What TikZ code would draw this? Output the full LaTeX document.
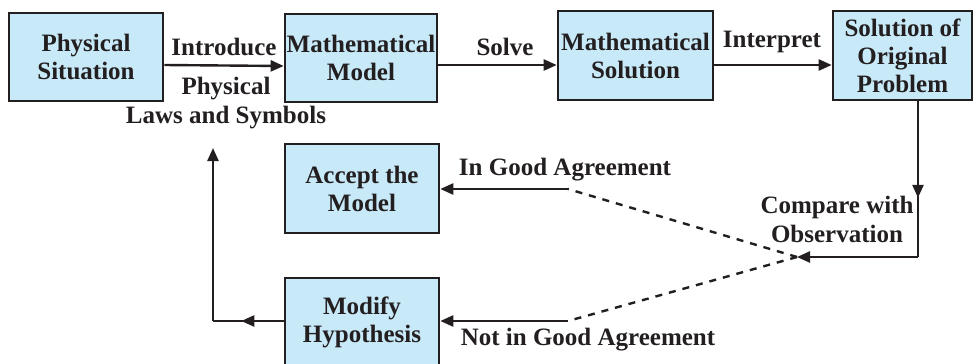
\documentclass[tikz,border=0pt]{standalone}
\usepackage{fontspec}
\setmainfont{Liberation Serif}
\usetikzlibrary{arrows.meta,decorations.markings,calc}
\definecolor{boxfill}{HTML}{C8E9F8}
\definecolor{ink}{HTML}{231F20}
\begin{document}
\begin{tikzpicture}[x=1pt,y=-1pt,
  box/.style={draw=ink,line width=2.6pt,fill=boxfill,align=center,inner sep=0pt,
    font=\fontsize{25}{28}\selectfont\bfseries,text=ink},
  lbl/.style={align=center,inner sep=0pt,font=\fontsize{25}{29}\selectfont\bfseries,text=ink},
  tip/.style={-{Triangle[length=13pt,width=11pt]}},
  conn/.style={draw=ink,line width=2.4pt},
  dashline/.style={draw=ink,line width=2.4pt,dash pattern=on 7pt off 7pt},
  midarrow/.style={postaction={decorate},decoration={markings,
    mark=at position #1 with {\arrow{Triangle[length=13pt,width=11pt]}}}}
]
\useasboundingbox (0,0) rectangle (980,364);
\node[box,minimum width=154,minimum height=88] (b1) at (86,57) {Physical\\Situation};
\node[box,minimum width=152,minimum height=88] (b2) at (361,58) {Mathematical\\Model};
\node[box,minimum width=155,minimum height=89] (b3) at (635.5,55.5) {Mathematical\\Solution};
\node[box,minimum width=139,minimum height=89] (b4) at (902.5,55.5) {Solution of\\Original\\Problem};
\node[box,minimum width=154,minimum height=89] (acc) at (362,188.5) {Accept the\\Model};
\node[box,minimum width=154,minimum height=89] (mod) at (362,322.5) {Modify\\Hypothesis};

\coordinate (cmp) at (797,257);
\coordinate (corner) at (918,257);
\coordinate (gd) at (568,189);
\coordinate (ngd) at (568,321);
\coordinate (lc) at (213,321);
\coordinate (lt) at (213,148);

\draw[conn,tip] ([yshift=-8pt]b1.east) -- ([yshift=-8pt]b2.west);
\draw[conn,tip] ([yshift=-7pt]b2.east) -- ([yshift=-9.5pt]b3.west);
\draw[conn,tip] ([yshift=-9.5pt]b3.east) -- ([yshift=-9.5pt]b4.west);

\draw[conn,midarrow=0.62] ([xshift=15.5pt]b4.south) -- (corner);
\draw[conn,tip] (corner) -- (cmp);

\draw[dashline] (cmp) -- (gd);
\draw[dashline] (cmp) -- (ngd);
\draw[conn,tip] (gd) -- (gd -| acc.east);
\draw[conn,tip] (ngd) -- (ngd -| mod.east);

\draw[conn,midarrow=0.6] (mod.west |- lc) -- (lc);
\draw[conn,tip] (lc) -- (lt);

\node[lbl] (intro) at (224,47) {Introduce};
\node[lbl] (laws) at (226,103) {Physical\\Laws and Symbols};
\node[lbl] (solve) at (505,47) {Solve};
\node[lbl] (interp) at (772,42) {Interpret};
\node[lbl] (compare) at (837,219) {Compare with\\Observation};
\node[lbl] (good) at (565,170) {In Good Agreement};
\node[lbl] (notgood) at (588,340) {Not in Good Agreement};
\end{tikzpicture}
\end{document}
